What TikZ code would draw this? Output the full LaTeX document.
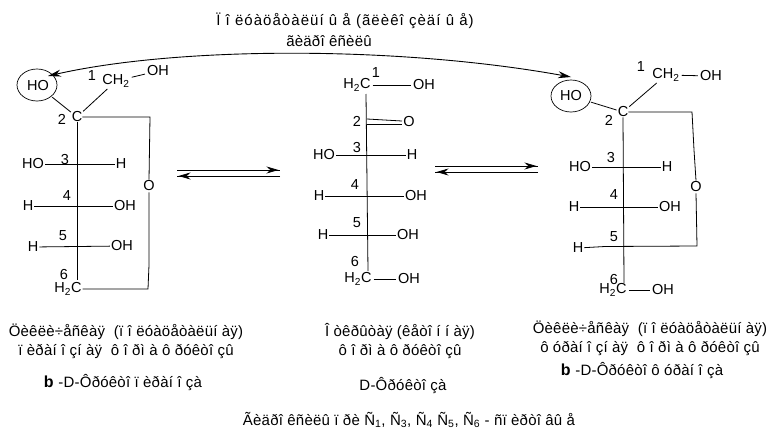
\documentclass[tikz,border=0pt]{standalone}
\usepackage{fontspec}
\setmainfont{Liberation Sans}
\newfontfamily\capfont[LetterSpace=1.5]{Liberation Sans}
\newfontfamily\capwide[LetterSpace=7]{Liberation Sans}
\usetikzlibrary{arrows.meta,decorations.markings,shapes.geometric}
\tikzset{
	atom/.style={inner sep=1pt, font=\fontsize{14.5}{16}\selectfont},
	num/.style={inner sep=0pt, font=\fontsize{14.5}{16}\selectfont},
	bond/.style={line width=0.8pt, shorten >=1pt, shorten <=1pt},
	chain/.style={line width=0.8pt},
	ring/.style={ellipse, draw, line width=0.7pt, minimum width=40pt, minimum height=32pt, inner sep=0pt},
	caption/.style={align=center, inner sep=0pt, font=\fontsize{15}{19}\selectfont\capfont},
	fwd/.style={line width=0.8pt, decoration={markings, mark=at position 0.985 with {\arrow{Stealth[length=12pt, width=7pt]}}}, postaction=decorate},
	oh/.style={line width=0.9pt, {Stealth[length=13pt, width=7pt]}-{Stealth[length=13pt, width=7pt]}}
}

\begin{document}
\begin{tikzpicture}[x=1pt, y=-1pt]
			\useasboundingbox (0, 0) rectangle (781, 447);
			%%%%% LEFT RING %%%%%
			
			\node[ring] (lring) at (37, 85) {};
			\node[atom] (lHO) at (38, 86) {HO};
			\node[num] (l1) at (92, 76) {1};
			\node[atom] (lCH) at (116, 81) {CH\textsubscript{2}};
			\node[atom] (lOH) at (158, 71) {OH};
			\node[atom, inner sep=0pt] (lC) at (77, 117) {C};
			\node[num] (l2) at (62, 119) {2};
			\node[atom] (lO) at (149, 186) {O};
			\node[atom] (lCH6) at (68, 289) {H\textsubscript{2}C};
			\node[num] (l6) at (64, 275) {6};
			\coordinate (lC6) at (77, 280);
			
			\draw[bond] (lring) -- (lC);
			\draw[bond] (lC) -- (lCH);
			\draw[bond] (lCH) -- (lOH);
			\draw[chain] (lC.east) -- (150, 117) -- (lO.north);
			\draw[chain] (lO.south) -- (149, 265) -- (148, 289) -- (lCH6.east);
			\draw[chain] (lC.south) -- (lC6);
			
			\node[atom] (lHO3) at (33, 164) {HO};
			\node[atom] (lH3) at (121, 164) {H};
			\node[num] (l3) at (65, 160) {3};
			\draw[chain] (lHO3) -- (lH3);
			
			\node[atom] (lH4) at (28, 206) {H};
			\node[atom] (lOH4) at (125, 206) {OH};
			\node[num] (l4) at (67, 196) {4};
			\draw[chain] (lH4) -- (lOH4);
			
			\node[atom] (lH5) at (33, 247) {H};
			\node[atom] (lOH5) at (122, 246) {OH};
			\node[num] (l5) at (63, 236) {5};
			\draw[chain] (lH5) -- (lOH5);
			
			%%%%% OPEN CHAIN %%%%%
			
			\node[atom] (mCH) at (357, 85) {H\textsubscript{2}C};
			\node[num] (m1) at (376, 73) {1};
			\node[atom] (mOH) at (424, 85) {OH};
			\coordinate (mC1) at (366, 94);
			\coordinate (mC6) at (368, 271);
			\draw[bond] (mCH) -- (mOH);
			\draw[chain] (mC1) -- (mC6);
			
			\node[num] (m2) at (357, 121) {2};
			\node[atom] (mO) at (409, 122) {O};
			\coordinate (mD1) at (367, 119);
			\coordinate (mD2) at (367, 124.5);
			\draw[chain] (mD1) -- (402, 121);
			\draw[chain] (mD2) -- (402, 124.5);
			
			\node[atom] (mHO3) at (324, 155) {HO};
			\node[atom] (mH3) at (412, 155) {H};
			\node[num] (m3) at (357, 148) {3};
			\draw[chain] (mHO3) -- (mH3);
			
			\node[atom] (mH4) at (319, 196) {H};
			\node[atom] (mOH4) at (416, 196) {OH};
			\node[num] (m4) at (355, 185) {4};
			\draw[chain] (mH4) -- (mOH4);
			
			\node[atom] (mH5) at (323, 235) {H};
			\node[atom] (mOH5) at (408, 235) {OH};
			\node[num] (m5) at (357, 223) {5};
			\draw[chain] (mH5) -- (mOH5);
			
			\node[num] (m6) at (355, 262) {6};
			\node[atom] (mCH6) at (358, 279) {H\textsubscript{2}C};
			\node[atom] (mOH6) at (409, 279) {OH};
			\draw[bond] (mCH6) -- (mOH6);
			
			%%%%% RIGHT RING %%%%%
			
			\node[ring] (rring) at (571, 96) {};
			\node[atom] (rHO) at (571, 96) {HO};
			\node[num] (r1) at (641, 67) {1};
			\node[atom] (rCH) at (666, 75) {CH\textsubscript{2}};
			\node[atom] (rOH) at (711, 76) {OH};
			\node[atom, inner sep=0pt] (rC) at (623, 112) {C};
			\node[num] (r2) at (609, 120) {2};
			\node[atom] (rO) at (696, 187) {O};
			\node[atom] (rCH6) at (613, 290) {H\textsubscript{2}C};
			\node[atom] (rOH6) at (663, 290) {OH};
			\node[num] (r6) at (614, 280) {6};
			\coordinate (rC6) at (624, 283);
			
			\draw[bond] (rring) -- (rC);
			\draw[bond] (rC) -- (rCH);
			\draw[bond] (rCH) -- (rOH);
			\draw[bond] (rCH6) -- (rOH6);
			\draw[chain] (rC.east) -- (692, 112) -- (694, 150) -- (rO.north);
			\draw[chain] (rC.south) -- (rC6);
			
			\node[atom] (rHO3) at (580, 167) {HO};
			\node[atom] (rH3) at (667, 167) {H};
			\node[num] (r3) at (611, 158) {3};
			\draw[chain] (rHO3) -- (rH3);
			
			\node[atom] (rH4) at (574, 207) {H};
			\node[atom] (rOH4) at (670, 207) {OH};
			\node[num] (r4) at (614, 195) {4};
			\draw[chain] (rH4) -- (rOH4);
			
			\node[atom] (rH5) at (578, 248) {H};
			\node[num] (r5) at (614, 237) {5};
			\draw[chain] (rH5) -- (605, 246.5) -- (697, 246) -- (rO.south);
			
			%%%%% ARROWS %%%%%
			
			\coordinate (a1) at (177, 170);
			\coordinate (a2) at (280, 170);
			\coordinate (a3) at (280, 176);
			\coordinate (a4) at (177, 176);
			\draw[fwd] (a1) -- (a2);
			\draw[fwd] (a3) -- (a4);
			
			\coordinate (b1) at (435, 166);
			\coordinate (b2) at (538, 166);
			\coordinate (b3) at (538, 172);
			\coordinate (b4) at (435, 172);
			\draw[fwd] (b1) -- (b2);
			\draw[fwd] (b3) -- (b4);
			
			\coordinate (tipL) at (48, 76);
			\coordinate (tipR) at (571, 77);
			\draw[oh] (tipL) .. controls (180, 46) and (400, 46) .. (tipR);
			
			%%%%% TEXT %%%%%
			
			\node[caption] (toptext) at (345, 21) {\capwide Ï î ëóàöåòàëüí û å (ãëèêî çèäí û å)};
			\node[caption] (toptext2) at (329, 41) {ãèäðî êñèëû};
			\node[caption] (lcap) at (126, 341.5) {Öèêëè÷åñêàÿ ~(ï î ëóàöåòàëüí àÿ)\\ï èðàí î çí àÿ ~ô î ðì à ô ðóêòî çû};
			\node[caption] (lname) at (123, 383) {\textbf{\fontsize{16}{16}\selectfont b} -D-Ôðóêòî ï èðàí î çà};
			\node[caption] (mcap) at (400, 341.5) {Î òêðûòàÿ (êåòî í í àÿ)\\ô î ðì à ô ðóêòî çû};
			\node[caption] (mname) at (403, 386) {D-Ôðóêòî çà};
			\node[caption] (rcap) at (650, 338) {Öèêëè÷åñêàÿ ~(ï î ëóàöåòàëüí àÿ)\\ô óðàí î çí àÿ ~ô î ðì à ô ðóêòî çû};
			\node[caption] (rname) at (642, 371) {\textbf{\fontsize{16}{16}\selectfont b} -D-Ôðóêòî ô óðàí î çà};
			\node[caption] (bottom) at (409, 420) {Ãèäðî êñèëû ï ðè Ñ\textsubscript{1}, Ñ\textsubscript{3}, Ñ\textsubscript{4} Ñ\textsubscript{5}, Ñ\textsubscript{6} - ñï èðòî âû å};
			
			%%%%% END %%%%%
		\end{tikzpicture}
\end{document}
